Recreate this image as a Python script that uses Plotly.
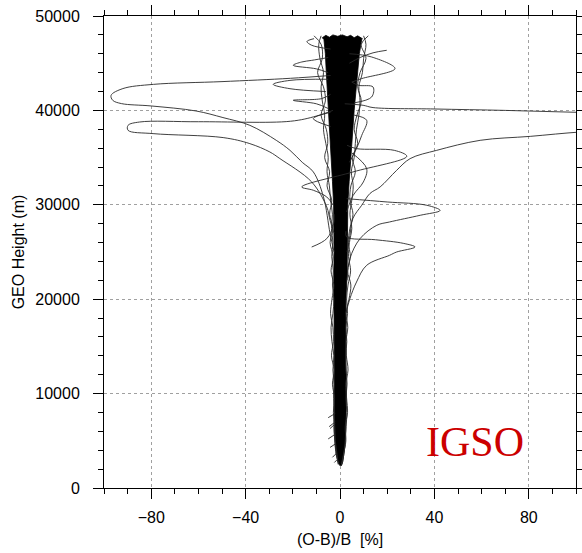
import plotly.graph_objects as go

# ---------------- data ----------------
# dense core of the (O-B)/B profiles : left / right envelope in %, height in m
CORE_H = [2350, 2800, 3500, 4500, 6000, 8000, 10000, 12500, 15000, 17500, 20000,
          22500, 25000, 27500, 30000, 32500, 35000, 37500, 40000, 42000, 44000,
          46000, 47500]
CORE_LEFT = [0.0, -0.9, -1.5, -2.0, -2.4, -2.5, -2.5, -2.4, -2.5, -2.4, -2.5,
             -2.6, -2.5, -2.6, -2.7, -3.2, -3.8, -4.5, -5.0, -5.5, -5.8, -6.2, -6.8]
CORE_RIGHT = [0.6, 1.2, 1.7, 2.1, 2.4, 2.6, 2.7, 2.5, 2.5, 2.4, 2.5,
              3.0, 3.1, 3.2, 3.3, 3.9, 4.5, 5.3, 6.0, 6.8, 7.4, 8.2, 9.2]
# jagged top of the core (left to right)
CORE_TOP_X = [-7.5, -6.0, -4.5, -3.0, -1.0, 1.0, 3.0, 4.5, 6.0, 7.5, 9.5]
CORE_TOP_H = [47700, 47950, 47750, 48000, 47850, 48000, 47800, 47950, 47700, 47900, 47600]

# fringe profiles hugging the core
FR_H = [2500, 3500, 5000, 6500, 8000, 9500, 11000, 12500, 14000, 15500, 17000,
        18500, 20000, 21500, 23000, 24500, 26000, 27500, 29000, 30500, 32000,
        33500, 35000, 36500, 38000, 39500, 41000, 42500, 44000, 45500, 47000, 47900]
FR_LEFT_1 = [-0.5, -1.6, -2.2, -2.6, -2.4, -2.7, -2.5, -3.0, -2.6, -3.4, -3.8,
             -3.0, -2.6, -3.2, -2.8, -3.5, -3.0, -3.6, -3.2, -4.0, -4.5, -5.5,
             -5.0, -6.0, -7.0, -6.5, -7.5, -8.0, -7.0, -8.5, -9.0, -8.0]
FR_LEFT_2 = [-0.8, -1.2, -2.0, -2.2, -2.8, -2.3, -3.2, -2.5, -3.6, -2.8, -3.0,
             -4.0, -3.4, -2.6, -3.8, -2.9, -4.2, -3.0, -4.4, -3.5, -5.5, -4.4,
             -6.5, -5.2, -5.8, -8.0, -6.2, -7.0, -9.5, -7.5, -8.0, -11.0]
FR_RIGHT_1 = [0.8, 1.6, 2.2, 2.6, 2.9, 2.5, 3.0, 2.6, 2.4, 2.9, 2.5, 3.2, 2.8,
              3.4, 4.5, 3.6, 4.0, 5.0, 4.2, 5.0, 5.6, 4.8, 6.0, 6.5, 7.0, 8.0,
              8.5, 8.0, 9.5, 10.0, 11.0, 10.0]
FR_RIGHT_2 = [0.6, 1.4, 2.5, 2.2, 3.2, 2.8, 2.4, 3.4, 2.7, 2.5, 3.3, 2.6, 3.8,
              4.6, 3.2, 4.4, 3.5, 4.2, 5.5, 4.2, 4.6, 6.5, 5.2, 7.5, 6.0, 7.2,
              9.0, 7.5, 8.5, 11.0, 9.0, 12.0]

# short profile starts at the bottom-left of the core
HAIR_X0 = [-2.0, -2.0, -2.0, -2.0, -1.8, -1.4, -1.2]
HAIR_H0 = [7900, 7000, 6800, 5700, 4700, 3700, 3000]
HAIR_X1 = [-5.0, -4.6, -4.2, -5.0, -4.2, -3.2, -2.4]
HAIR_H1 = [7450, 6500, 6300, 5200, 4300, 3250, 2700]

# outlying profiles (x in %, height in m)
OUT_A_X = [-4, -21, -50, -79, -92, -97, -96.3, -92.6, -80, -61, -49.6, -38.2,
           -27, -21.2, -16, -11.3, -7, -4.2, -2.5]
OUT_A_H = [43700, 43400, 43050, 42760, 42310, 41600, 41070, 40720, 40470, 39940,
           39240, 38420, 36830, 35770, 34500, 33480, 30830, 26950, 25000]
OUT_B_X = [-3, -10, -21, -60, -84.9, -89.8, -89.8, -79.2, -49.5, -38.2, -29.7,
           -25.5, -12, -5.6, -4.2, -2.5]
OUT_B_H = [40000, 39400, 38850, 38800, 38770, 38420, 37890, 37540, 37120, 36480,
           35590, 34900, 32420, 29770, 28340, 27000]
OUT_C_X = [2, 9.8, 14, 40, 70, 100, 130]
OUT_C_H = [40700, 40540, 40300, 40150, 40000, 39800, 39600]
OUT_D_X = [120, 101.8, 80.6, 59.4, 41, 29.7, 24, 17, 12.7, 9.2, 5.5, 4.2, 3.0]
OUT_D_H = [37900, 37710, 37250, 36830, 35770, 34890, 33650, 31890, 31200, 29950,
           28570, 26770, 25000]
OUT_E_X = [2.8, 20, 36.8, 42.4, 34, 21, 15.6, 8.5, 4.2, 3.0]
OUT_E_H = [30650, 30300, 29950, 29400, 28890, 28180, 27830, 26420, 24300, 22000]
OUT_F_X = [3, 7, 23, 28.3, 5.5, -16.2, -11.3, -5.6, -3]
OUT_F_H = [36300, 35950, 35770, 35140, 33480, 31890, 31540, 30830, 30000]
OUT_G_X = [2.5, 2.8, 15, 26.8, 31.8, 24, 21, 11.3, 7, 4.2, 2.5]
OUT_G_H = [27200, 26590, 26300, 25920, 25530, 25000, 24650, 23590, 21820, 20060, 18500]
OUT_H_X = [-2.5, -2.8, -5.6, -12]
OUT_H_H = [29000, 27830, 26420, 25530]
OUT_J_X = [-4, -11.3, -4]
OUT_J_H = [39800, 39130, 38300]
OUT_K_X = [4, 8.5, 14, 19.8]
OUT_K_H = [45000, 45600, 46100, 46370]
OUT_L_X = [5, 7.8, 14, 13.4, 6]
OUT_L_H = [43000, 42660, 42480, 41420, 40800]
OUT_M_X = [-4, -12, -14, -11]
OUT_M_H = [46500, 46900, 47300, 47600]
OUT_N_X = [-5, -12, -16.2, -19.8, -10, -5]
OUT_N_H = [45600, 45300, 45130, 44780, 44400, 44000]
OUT_O_X = [-4, -7.8, -19.8, -10, -5]
OUT_O_H = [41700, 41250, 41070, 40700, 40200]
OUT_P_X = [-5, -21.2, -28.3, -21.2, -6]
OUT_P_H = [43300, 43180, 42760, 42300, 42000]
OUT_Q_X = [4, 13.4, 23.3, 9.2, 5]
OUT_Q_H = [46000, 45660, 44430, 43370, 43000]
OUT_R_X = [6, 11.3, 9.2, 7, 4]
OUT_R_H = [39500, 38950, 37350, 35960, 34500]
OUT_S_X = [5, 11.3, 9.9, 5.6, 2.8]
OUT_S_H = [35500, 33830, 32420, 31010, 29240]

X_TICKS = [-80, -40, 0, 40, 80]
Y_TICKS = [0, 10000, 20000, 30000, 40000, 50000]

# ---------------- figure ----------------
LINE = dict(color="#2a2a2a", width=0.9)
fig = go.Figure()

# core as a filled polygon
core_x = CORE_LEFT + CORE_TOP_X + CORE_RIGHT[::-1]
core_y = CORE_H + CORE_TOP_H + CORE_H[::-1]
fig.add_trace(go.Scatter(x=core_x, y=core_y, mode="lines", fill="toself",
                         fillcolor="black", line=dict(color="black", width=0.8),
                         hoverinfo="skip", showlegend=False))

for fx in [FR_LEFT_1, FR_LEFT_2, FR_RIGHT_1, FR_RIGHT_2]:
    fig.add_trace(go.Scatter(x=fx, y=FR_H, mode="lines", line=LINE,
                             line_shape="spline", showlegend=False))

hx, hy = [], []
for x0, y0, x1, y1 in zip(HAIR_X0, HAIR_H0, HAIR_X1, HAIR_H1):
    hx += [x0, x1, None]
    hy += [y0, y1, None]
fig.add_trace(go.Scatter(x=hx, y=hy, mode="lines", line=LINE, showlegend=False))

outliers = [(OUT_A_X, OUT_A_H), (OUT_B_X, OUT_B_H), (OUT_C_X, OUT_C_H),
            (OUT_D_X, OUT_D_H), (OUT_E_X, OUT_E_H), (OUT_F_X, OUT_F_H),
            (OUT_G_X, OUT_G_H), (OUT_H_X, OUT_H_H), (OUT_J_X, OUT_J_H),
            (OUT_K_X, OUT_K_H), (OUT_L_X, OUT_L_H), (OUT_M_X, OUT_M_H),
            (OUT_N_X, OUT_N_H), (OUT_O_X, OUT_O_H), (OUT_P_X, OUT_P_H),
            (OUT_Q_X, OUT_Q_H), (OUT_R_X, OUT_R_H), (OUT_S_X, OUT_S_H)]
for ox, oh in outliers:
    fig.add_trace(go.Scatter(x=ox, y=oh, mode="lines", line=LINE,
                             line_shape="spline", showlegend=False))

FONT = "Liberation Sans, Arial, Helvetica, sans-serif"
axis_common = dict(showline=True, linecolor="black", linewidth=1, mirror="ticks",
                   ticks="outside", ticklen=10, tickwidth=1, tickcolor="black",
                   showgrid=True, gridcolor="#a0a0a0", gridwidth=1,
                   griddash="3px,3px", zeroline=False, automargin=False,
                   tickfont=dict(family=FONT, size=16, color="black"))

fig.update_layout(
    width=582, height=553,
    margin=dict(l=104, r=6, t=16, b=65, autoexpand=False),
    paper_bgcolor="white", plot_bgcolor="white",
    font=dict(family=FONT, size=16, color="black"),
    xaxis=dict(range=[-100, 100], tickvals=X_TICKS, ticklabelstandoff=5,
               minor=dict(dtick=10, tick0=0, ticks="outside", ticklen=5,
                          tickcolor="black", showgrid=False),
               title=dict(text="(O-B)/B  [%]", font=dict(family=FONT, size=16),
                          standoff=8),
               **axis_common),
    yaxis=dict(range=[0, 50000], tickvals=Y_TICKS, tickformat="d",
               ticklabelstandoff=10,
               minor=dict(dtick=2000, tick0=0, ticks="outside", ticklen=5,
                          tickcolor="black", showgrid=False),
               title=dict(text="GEO Height (m)", font=dict(family=FONT, size=16),
                          standoff=6),
               **axis_common),
    annotations=[dict(text="IGSO", x=0.786, y=0.097, xref="paper", yref="paper",
                      showarrow=False, xanchor="center", yanchor="middle",
                      font=dict(family="Liberation Serif, Times New Roman, serif",
                                size=42, color="#cc0000"))],
)

fig.write_html("out.html")
